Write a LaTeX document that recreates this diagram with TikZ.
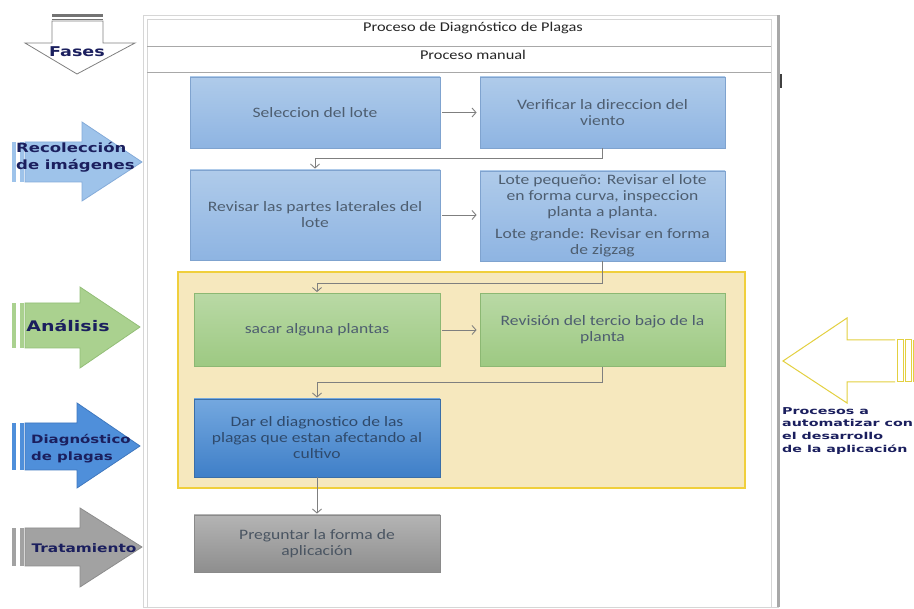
\documentclass[tikz,border=0pt]{standalone}
\usepackage{fontspec}
\usetikzlibrary{arrows.meta}
\newfontfamily\boxfont[FakeStretch=1.22]{Carlito}
\newfontfamily\lblfont[FakeStretch=1.3]{DejaVu Sans Bold}
\newfontfamily\lblfontw[FakeStretch=1.5]{DejaVu Sans Bold}
\definecolor{navy}{HTML}{1B1F5E}
\definecolor{boxtxt}{HTML}{4E5E70}
\definecolor{ltblueT}{HTML}{AFCBEA}
\definecolor{ltblueB}{HTML}{8EB4E2}
\definecolor{ltblueD}{HTML}{7FA3CF}
\definecolor{grT}{HTML}{B9D9A5}
\definecolor{grB}{HTML}{9DC982}
\definecolor{grD}{HTML}{8CB873}
\definecolor{dbT}{HTML}{74A8DF}
\definecolor{dbB}{HTML}{3F7FC8}
\definecolor{dbD}{HTML}{3A6EA8}
\definecolor{dbtxt}{HTML}{2F4A6C}
\definecolor{gyT}{HTML}{B4B4B4}
\definecolor{gyB}{HTML}{8E8E8E}
\definecolor{gyD}{HTML}{8A8A8A}
\definecolor{gytxt}{HTML}{4A5562}
\definecolor{yelD}{HTML}{F0CF3C}
\definecolor{yelF}{HTML}{F6E8BE}
\definecolor{yarrow}{HTML}{E3D040}
\definecolor{conncol}{HTML}{7F7F7F}
\definecolor{framecol}{HTML}{D6D6D6}
\definecolor{rulecol}{HTML}{A8A8A8}
\definecolor{arBlue}{HTML}{9EC3EA}
\definecolor{arBlueD}{HTML}{84ABD9}
\definecolor{arGreen}{HTML}{AAD18F}
\definecolor{arGreenD}{HTML}{93BE77}
\definecolor{arDBlue}{HTML}{4F8FDA}
\definecolor{arDBlueD}{HTML}{3F78BE}
\definecolor{arGray}{HTML}{A2A2A2}
\definecolor{arGrayD}{HTML}{8C8C8C}
\tikzset{
  procbox/.style={rectangle, draw=#1, line width=0.8pt, align=center,
    font=\boxfont\fontsize{14.4}{16}\selectfont, text=boxtxt, inner sep=1pt},
  bluebox/.style={procbox=ltblueD, top color=ltblueT, bottom color=ltblueB},
  greenbox/.style={procbox=grD, top color=grT, bottom color=grB},
  dbluebox/.style={procbox=dbD, top color=dbT, bottom color=dbB, text=dbtxt},
  graybox/.style={procbox=gyD, top color=gyT, bottom color=gyB, text=gytxt},
  conn/.style={draw=conncol, line width=0.9pt, -{Straight Barb[length=4pt,width=9pt]}, shorten >=1pt},
  titletext/.style={font=\boxfont\fontsize{13.4}{15.5}\selectfont, text=black!85, inner sep=0pt},
  phasearrow/.style={line width=0.8pt},
  phaselbl/.style={text=navy, align=left, inner sep=0pt},
  yarea/.style={rectangle, draw=yelD, line width=1.5pt, fill=yelF, inner sep=0pt}
}
\begin{document}
\begin{tikzpicture}[x=1pt,y=-1pt]
\useasboundingbox (0,0) rectangle (914,609);
\fill[white] (0,0) rectangle (914,609);

% ---- frame ----
\draw[framecol, line width=0.8pt] (143,15) rectangle (778,607);
\draw[framecol, line width=0.8pt] (147,19) rectangle (771,607);
\draw[rulecol, line width=0.8pt] (147,46.5) -- (771,46.5);
\draw[rulecol, line width=0.8pt] (147,72.7) -- (771,72.7);
\fill[rulecol] (776.5,15) rectangle (780,607);
\fill[black!75] (780,74) rectangle (782,88);

\node[titletext] (title) at (473,28) {Proceso de Diagnóstico de Plagas};
\node[titletext] (manual) at (473,55) {Proceso manual};

% ---- automation area ----
\node[yarea, minimum width=567pt, minimum height=216pt] (area) at (461.5,380) {};

% ---- process boxes ----
\node[bluebox, minimum width=250pt, minimum height=71pt] (b1) at (315,112.5) {Seleccion del lote};
\node[bluebox, minimum width=245pt, minimum height=71pt] (b2) at (602.5,112.5) {Verificar la direccion del\\viento};
\node[bluebox, minimum width=250pt, minimum height=90pt] (b3) at (315,215) {Revisar las partes laterales del\\lote};
\node[bluebox, minimum width=245pt, minimum height=90pt] (b4) at (602.5,216)
  {Lote pequeño: Revisar el lote\\en forma curva, inspeccion\\planta a planta.\\[6pt]Lote grande: Revisar en forma\\de zigzag};
\node[greenbox, minimum width=246pt, minimum height=73pt] (b5) at (317,330) {sacar alguna plantas};
\node[greenbox, minimum width=245pt, minimum height=73pt] (b6) at (602.5,330) {Revisión del tercio bajo de la\\planta};
\node[dbluebox, minimum width=246pt, minimum height=78pt] (b7) at (317,438)
  {Dar el diagnostico de las\\plagas que estan afectando al\\cultivo};
\node[graybox, minimum width=246pt, minimum height=57pt] (b8) at (317,543.5) {Preguntar la forma de\\aplicación};

% ---- connectors ----
\draw[conn, shorten <=2pt, shorten >=3pt] (b1.east) -- (b2.west);
\draw[conn] (b2.south) -- ++(0,10) -| (b3.north);
\draw[conn, shorten <=2pt, shorten >=3pt] (b3.east) -- (b4.west |- b3.east);
\draw[conn] (b4.south) -- ++(0,22) -| (b5.north);
\draw[conn, shorten <=2pt, shorten >=3pt] (b5.east) -- (b6.west);
\draw[conn] (b6.south) -- ++(0,16) -| (b7.north);
\draw[conn] (b7.south) -- (b8.north);

% ---- phase arrows (left) ----
% Fases
\fill[black!55] (52,14) rectangle (103,17);
\draw[black!55, line width=0.8pt] (52,19.8) -- (103,19.8);
\draw[phasearrow, draw=black!50, fill=white] (52,21) -- (103,21) -- (103,43) -- (135,43) -- (77,74) -- (25,43) -- (52,43) -- cycle;
\node[phaselbl, font=\lblfont\fontsize{13.5}{15}\selectfont] (lfases) at (77,52) {Fases};

% Recoleccion
\fill[arBlue] (12,142) rectangle (16,182);
\fill[arBlue] (20,142) rectangle (24,182);
\draw[phasearrow, draw=arBlueD, fill=arBlue] (25,142) -- (82,142) -- (82,122) -- (142,162) -- (82,201) -- (82,182) -- (25,182) -- cycle;
\node[phaselbl, anchor=west, font=\lblfont\fontsize{12.7}{17}\selectfont] (lrec) at (16,157) {Recolección\\de imágenes};

% Analisis
\fill[arGreen] (12,303) rectangle (16,348);
\fill[arGreen] (20,303) rectangle (24,348);
\draw[phasearrow, draw=arGreenD, fill=arGreen] (25,303) -- (80,303) -- (80,287) -- (140,327) -- (80,368) -- (80,348) -- (25,348) -- cycle;
\node[phaselbl, font=\lblfont\fontsize{14.6}{17}\selectfont] (lana) at (68,326) {Análisis};

% Diagnostico
\fill[arDBlue] (12,423) rectangle (16,470);
\fill[arDBlue] (20,423) rectangle (24,470);
\draw[phasearrow, draw=arDBlueD, fill=arDBlue] (25,423) -- (77,423) -- (77,403) -- (140,446) -- (77,488) -- (77,470) -- (25,470) -- cycle;
\node[phaselbl, anchor=west, font=\lblfont\fontsize{11.5}{17}\selectfont] (ldiag) at (31,449) {Diagnóstico\\de plagas};

% Tratamiento
\fill[arGray] (12,528) rectangle (16,566);
\fill[arGray] (20,528) rectangle (24,566);
\draw[phasearrow, draw=arGrayD, fill=arGray] (25,528) -- (80,528) -- (80,508) -- (142,547) -- (80,587) -- (80,566) -- (25,566) -- cycle;
\node[phaselbl, font=\lblfont\fontsize{11.8}{15}\selectfont] (ltrat) at (84,548) {Tratamiento};

% ---- automation arrow (right) ----
\draw[line width=1pt, draw=yarrow, fill=white] (895,340) -- (847,340) -- (847,318) -- (783,361) -- (847,403) -- (847,382) -- (895,382);
\draw[line width=1pt, draw=yarrow] (897,340) rectangle (903,382);
\draw[line width=1pt, draw=yarrow] (905,340) rectangle (911,382);
\draw[line width=1pt, draw=yarrow] (913,340) -- (913,382);
\node[phaselbl, anchor=north west, font=\lblfontw\fontsize{9.5}{12.8}\selectfont] (lauto) at (782,407)
  {Procesos a\\automatizar con\\el desarrollo\\de la aplicación};
\end{tikzpicture}
\end{document}
